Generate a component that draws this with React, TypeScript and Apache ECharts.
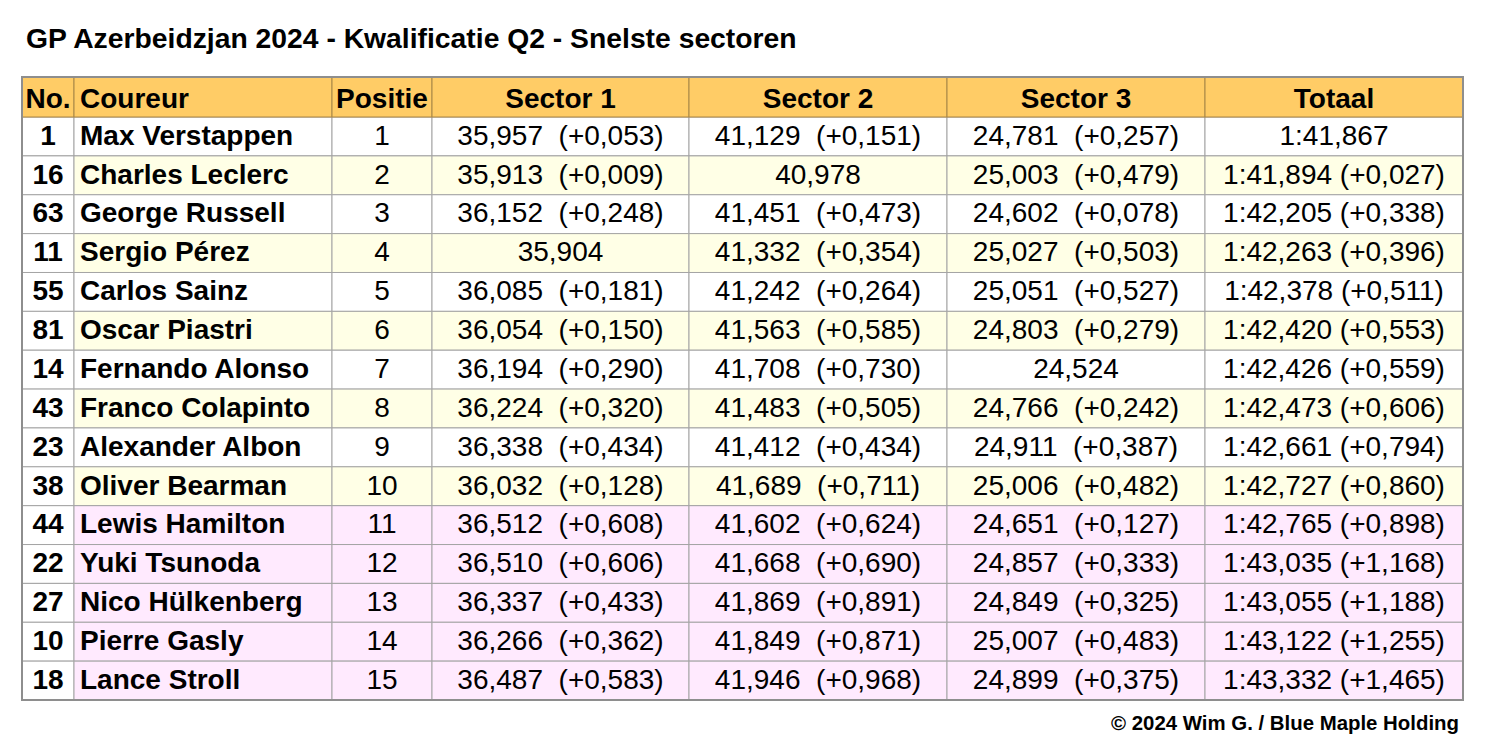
import React, { useEffect, useRef } from "react";
import * as echarts from "echarts";

// ---------- data ----------
const titleText = "GP Azerbeidzjan 2024 - Kwalificatie Q2 - Snelste sectoren";
const creditText = "© 2024 Wim G. / Blue Maple Holding";
const headers = ["No.", "Coureur", "Positie", "Sector 1", "Sector 2", "Sector 3", "Totaal"];

const carNumbers = [1, 16, 63, 11, 55, 81, 14, 43, 23, 38, 44, 22, 27, 10, 18];
const drivers = [
  "Max Verstappen", "Charles Leclerc", "George Russell", "Sergio Pérez", "Carlos Sainz",
  "Oscar Piastri", "Fernando Alonso", "Franco Colapinto", "Alexander Albon", "Oliver Bearman",
  "Lewis Hamilton", "Yuki Tsunoda", "Nico Hülkenberg", "Pierre Gasly", "Lance Stroll",
];
const positions = [1, 2, 3, 4, 5, 6, 7, 8, 9, 10, 11, 12, 13, 14, 15];
const sector1 = [35.957, 35.913, 36.152, 35.904, 36.085, 36.054, 36.194, 36.224, 36.338, 36.032, 36.512, 36.51, 36.337, 36.266, 36.487];
const sector1Gap = [0.053, 0.009, 0.248, null, 0.181, 0.15, 0.29, 0.32, 0.434, 0.128, 0.608, 0.606, 0.433, 0.362, 0.583];
const sector2 = [41.129, 40.978, 41.451, 41.332, 41.242, 41.563, 41.708, 41.483, 41.412, 41.689, 41.602, 41.668, 41.869, 41.849, 41.946];
const sector2Gap = [0.151, null, 0.473, 0.354, 0.264, 0.585, 0.73, 0.505, 0.434, 0.711, 0.624, 0.69, 0.891, 0.871, 0.968];
const sector3 = [24.781, 25.003, 24.602, 25.027, 25.051, 24.803, 24.524, 24.766, 24.911, 25.006, 24.651, 24.857, 24.849, 25.007, 24.899];
const sector3Gap = [0.257, 0.479, 0.078, 0.503, 0.527, 0.279, null, 0.242, 0.387, 0.482, 0.127, 0.333, 0.325, 0.483, 0.375];
const totalTime = [101.867, 101.894, 102.205, 102.263, 102.378, 102.42, 102.426, 102.473, 102.661, 102.727, 102.765, 103.035, 103.055, 103.122, 103.332];
const totalGap = [null, 0.027, 0.338, 0.396, 0.511, 0.553, 0.559, 0.606, 0.794, 0.86, 0.898, 1.168, 1.188, 1.255, 1.465];

// ---------- layout / style ----------
const colEdges = [0, 52, 310, 410, 667, 925, 1183, 1441];
const HEADER_TOP = -0.03; // header row is slightly taller than body rows
const FONT = "Arial, 'Liberation Sans', sans-serif";
const HEADER_BG = "#FFCC66";
const ZEBRA_BG = "#FFFFE6";
const OUT_BG = "#FFEAFE";
const WHITE = "#FFFFFF";

const fmt3 = (v: number) => v.toFixed(3).replace(".", ",");
const fmtLap = (v: number) => {
  const m = Math.floor(v / 60);
  const s = v - m * 60;
  const str = s.toFixed(3).replace(".", ",");
  return m + ":" + (s < 10 ? "0" + str : str);
};
const sectorCell = (v: number, g: number | null) => (g == null ? fmt3(v) : fmt3(v) + "  (+" + fmt3(g) + ")");
const totalCell = (v: number, g: number | null) => (g == null ? fmtLap(v) : fmtLap(v) + " (+" + fmt3(g) + ")");

type Cell = { text: string; bold: boolean; align: "left" | "center"; bg: string; stroke: string; header: boolean };

function buildCells() {
  const cells: { value: number[]; cell: Cell }[] = [];
  for (let i = 0; i < drivers.length; i++) {
    const pos = positions[i];
    const rowBg = pos > 10 ? OUT_BG : pos % 2 === 0 ? ZEBRA_BG : WHITE;
    const texts = [
      String(carNumbers[i]),
      drivers[i],
      String(pos),
      sectorCell(sector1[i], sector1Gap[i]),
      sectorCell(sector2[i], sector2Gap[i]),
      sectorCell(sector3[i], sector3Gap[i]),
      totalCell(totalTime[i], totalGap[i]),
    ];
    texts.forEach((t, c) => {
      cells.push({
        value: [c, i + 1],
        cell: {
          text: t,
          bold: c <= 1,
          align: c === 1 ? "left" : "center",
          bg: c === 0 ? WHITE : rowBg,
          stroke: "#A4A4A4",
          header: false,
        },
      });
    });
  }
  headers.forEach((h, c) => {
    cells.push({
      value: [c, 0],
      cell: { text: h, bold: true, align: c === 1 ? "left" : "center", bg: HEADER_BG, stroke: "#A88646", header: true },
    });
  });
  return cells;
}

export default function App() {
  const ref = useRef<HTMLDivElement>(null);
  useEffect(() => {
    if (!ref.current) return;
    const chart = echarts.init(ref.current, undefined, { renderer: "svg" });
    const cells = buildCells();
    const nRows = drivers.length + 1;
    chart.setOption({
      animation: false,
      backgroundColor: "#FFFFFF",
      title: [
        {
          text: titleText,
          left: 26,
          top: 24,
          padding: 0,
          textStyle: { fontFamily: FONT, fontSize: 28.3, fontWeight: "bold", color: "#000" },
        },
        {
          text: creditText,
          right: 29,
          top: 713,
          padding: 0,
          textStyle: { fontFamily: FONT, fontSize: 20.4, fontWeight: "bold", color: "#000" },
        },
      ],
      grid: {
        left: 22,
        top: 77,
        width: 1441,
        height: 623,
        show: true,
        z: 10,
        backgroundColor: "transparent",
        borderColor: "#8E8E8E",
        borderWidth: 2,
      },
      xAxis: { type: "value", min: 0, max: colEdges[colEdges.length - 1], show: false },
      yAxis: { type: "value", min: HEADER_TOP, max: nRows, inverse: true, show: false },
      series: [
        {
          type: "custom",
          coordinateSystem: "cartesian2d",
          clip: false,
          data: cells.map((c) => c.value),
          renderItem: (params: any, api: any) => {
            const c = api.value(0);
            const r = api.value(1);
            const cell = cells[params.dataIndex].cell;
            const top = r === 0 ? HEADER_TOP : r;
            const p0 = api.coord([colEdges[c], top]);
            const p1 = api.coord([colEdges[c + 1], r + 1]);
            const x = p0[0];
            const y = p0[1];
            const w = p1[0] - p0[0];
            const h = p1[1] - p0[1];
            const tx = cell.align === "left" ? x + 6 : x + w / 2;
            return {
              type: "group",
              children: [
                {
                  type: "rect",
                  shape: { x, y, width: w, height: h },
                  style: { fill: cell.bg, stroke: cell.stroke, lineWidth: 1 },
                  z2: cell.header ? 3 : 2,
                },
                {
                  type: "text",
                  x: tx,
                  y: y + h / 2 + (cell.header ? 1.5 : -1.2),
                  style: {
                    text: cell.text,
                    fontFamily: FONT,
                    fontSize: 28,
                    fontWeight: cell.bold ? "bold" : "normal",
                    fill: "#000",
                    align: cell.align,
                    verticalAlign: "middle",
                  },
                  z2: 5,
                },
              ],
            };
          },
        },
      ],
    });
    return () => chart.dispose();
  }, []);
  return (
    <div
      ref={ref}
      style={{ position: "fixed", left: 0, top: 0, width: 1488, height: 739, background: "#fff" }}
    />
  );
}
